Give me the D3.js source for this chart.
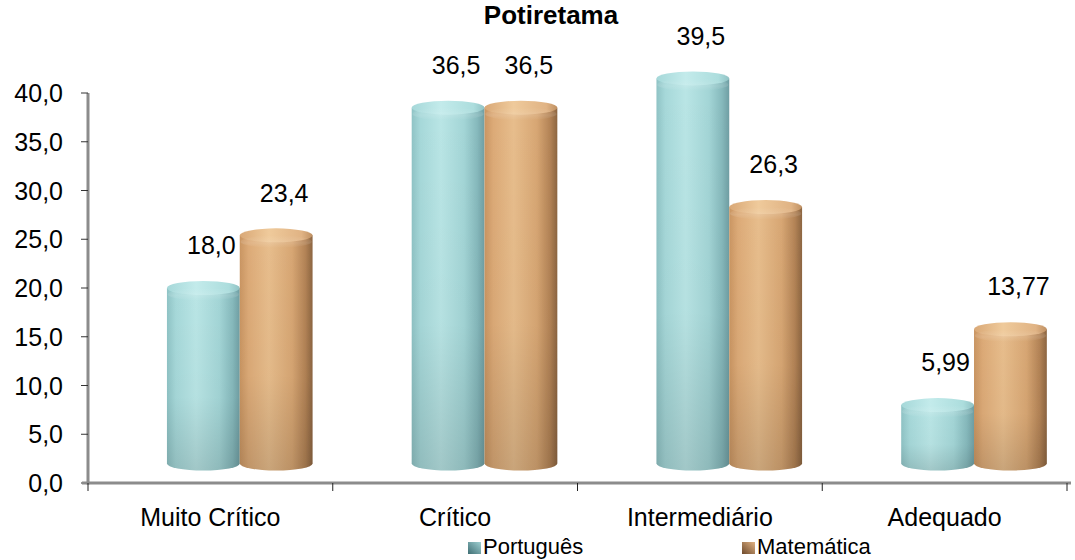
<!DOCTYPE html>
<html>
<head>
<meta charset="utf-8">
<script src="https://cdn.jsdelivr.net/npm/d3@7"></script>
<style>
  html, body { margin: 0; padding: 0; background: #fff; }
  svg { display: block; font-family: "Liberation Sans", Arial, sans-serif; }
</style>
</head>
<body>
<svg id="chart" width="1075" height="560"></svg>
<script>
// Chart data
const title = "Potiretama";
const categories = ["Muito Crítico", "Crítico", "Intermediário", "Adequado"];
const seriesNames = ["Português", "Matemática"];
const portugues = [18.0, 36.5, 39.5, 5.99];
const matematica = [23.4, 36.5, 26.3, 13.77];
const valueLabels = [["18,0", "36,5", "39,5", "5,99"], ["23,4", "36,5", "26,3", "13,77"]];
const yTicks = [0, 5, 10, 15, 20, 25, 30, 35, 40];
const seriesValues = [portugues, matematica];

const svg = d3.select("#chart");
const W = 1075, H = 560;
const plot = { left: 88, right: 1067, top: 93, bottom: 483 };

const y = d3.scaleLinear().domain([0, 40]).range([plot.bottom, plot.top]);
const x0 = d3.scaleBand().domain(categories).range([plot.left, plot.right]);
const x1 = d3.scaleBand().domain(seriesNames)
  .range([x0.bandwidth() * 0.2, x0.bandwidth() * 0.795]);

// 3D projection of the bar floor: back plane shifted right and up
const depthX = 30, depthY = -19.5, ry = 7;

// Gradients
const defs = svg.append("defs");
const bodyStops = {
  "Português": [[0, "#8fc3c5"], [0.12, "#a6d8d9"], [0.4, "#b9e5e5"], [0.72, "#a3d5d6"], [0.9, "#86b9bc"], [1, "#6f9ea3"]],
  "Matemática": [[0, "#c99562"], [0.12, "#dcaa77"], [0.4, "#e7bd8c"], [0.72, "#d7a673"], [0.9, "#b38356"], [1, "#8c6541"]]
};
const capStops = {
  "Português": [[0, "#a6d8d9"], [0.4, "#c3ebeb"], [0.85, "#acdddd"], [1, "#90c2c4"]],
  "Matemática": [[0, "#d9a876"], [0.4, "#efca9b"], [0.85, "#e0b384"], [1, "#bf9062"]]
};
seriesNames.forEach((s, i) => {
  const g = defs.append("linearGradient").attr("id", "body" + i)
    .attr("x1", "0").attr("x2", "1").attr("y1", "0").attr("y2", "0");
  bodyStops[s].forEach(([o, c]) => g.append("stop").attr("offset", o).attr("stop-color", c));
  const c = defs.append("linearGradient").attr("id", "cap" + i)
    .attr("x1", "0").attr("x2", "1").attr("y1", "0").attr("y2", "0");
  capStops[s].forEach(([o, col]) => c.append("stop").attr("offset", o).attr("stop-color", col));
});
const shade = defs.append("linearGradient").attr("id", "shade")
  .attr("x1", "0").attr("x2", "0").attr("y1", "0").attr("y2", "1");
shade.append("stop").attr("offset", 0).attr("stop-color", "#000").attr("stop-opacity", 0);
shade.append("stop").attr("offset", 0.6).attr("stop-color", "#000").attr("stop-opacity", 0.02);
shade.append("stop").attr("offset", 1).attr("stop-color", "#000").attr("stop-opacity", 0.13);

const capHi = defs.append("linearGradient").attr("id", "capHi")
  .attr("x1", "0").attr("x2", "0").attr("y1", "0").attr("y2", "1");
capHi.append("stop").attr("offset", 0).attr("stop-color", "#fff").attr("stop-opacity", 0);
capHi.append("stop").attr("offset", 0.6).attr("stop-color", "#fff").attr("stop-opacity", 0.12);
capHi.append("stop").attr("offset", 1).attr("stop-color", "#fff").attr("stop-opacity", 0);

const soft = defs.append("filter").attr("id", "soft");
soft.append("feGaussianBlur").attr("stdDeviation", 0.7);

const legendGrad = [["#3f6e74", "#9fd0d2"], ["#6e4a2c", "#e0b283"]];
legendGrad.forEach((cols, i) => {
  const g = defs.append("linearGradient").attr("id", "leg" + i)
    .attr("x1", "0").attr("x2", "1").attr("y1", "1").attr("y2", "0");
  g.append("stop").attr("offset", 0).attr("stop-color", cols[0]);
  g.append("stop").attr("offset", 1).attr("stop-color", cols[1]);
});

// Title
svg.append("text").attr("x", 551).attr("y", 24)
  .attr("text-anchor", "middle").attr("font-size", 26).attr("font-weight", "bold")
  .attr("fill", "#000").text(title);

// Cylinders
const bars = [];
categories.forEach((cat, ci) => {
  seriesNames.forEach((s, si) => {
    bars.push({ cat, ci, s, si, v: seriesValues[si][ci], label: valueLabels[si][ci] });
  });
});

const barG = svg.append("g").attr("filter", "url(#soft)");
bars.forEach(d => {
  const w = x1.bandwidth();
  const rx = w / 2;
  const left = x0(d.cat) + x1(d.s) + depthX;
  const right = left + w;
  const topY = y(d.v) + depthY;
  const botY = y(0) + depthY;
  const body = `M${left},${topY} L${left},${botY} A${rx},${ry} 0 0 0 ${right},${botY} L${right},${topY} Z`;
  const g = barG.append("g");
  g.append("path").attr("d", body).attr("fill", `url(#body${d.si})`);
  g.append("path").attr("d", body).attr("fill", "url(#shade)");
  g.append("ellipse").attr("cx", left + rx).attr("cy", topY).attr("rx", rx).attr("ry", ry)
    .attr("fill", `url(#cap${d.si})`);
  g.append("ellipse").attr("cx", left + rx).attr("cy", topY + ry * 0.9).attr("rx", rx * 0.98).attr("ry", ry * 0.9)
    .attr("fill", "url(#capHi)");
});

// Value labels
svg.append("g").selectAll("text").data(bars).join("text")
  .attr("x", d => x0(d.cat) + x1(d.s) + depthX + x1.bandwidth() / 2 + 8)
  .attr("y", d => y(d.v) - 62)
  .attr("dy", "0.35em")
  .attr("text-anchor", "middle").attr("font-size", 25).attr("fill", "#000")
  .text(d => d.label);

// Y axis
const yAxis = svg.append("g");
yAxis.append("line").attr("x1", plot.left).attr("x2", plot.left)
  .attr("y1", plot.top).attr("y2", plot.bottom + 1.5)
  .attr("stroke", "#8c8c8c").attr("stroke-width", 3);
yAxis.selectAll(".tk").data(yTicks).join("line")
  .attr("x1", plot.left - 7).attr("x2", plot.left)
  .attr("y1", d => y(d)).attr("y2", d => y(d))
  .attr("stroke", "#333").attr("stroke-width", 1);
yAxis.selectAll("text").data(yTicks).join("text")
  .attr("x", 63).attr("y", d => y(d)).attr("dy", "0.36em")
  .attr("text-anchor", "end").attr("font-size", 25).attr("fill", "#000")
  .text(d => d.toFixed(1).replace(".", ","));

// X axis
const xAxis = svg.append("g");
xAxis.append("line").attr("x1", plot.left - 6).attr("x2", 1071)
  .attr("y1", plot.bottom).attr("y2", plot.bottom)
  .attr("stroke", "#8c8c8c").attr("stroke-width", 3);
const boundaries = categories.map(c => x0(c)).concat([plot.right]);
xAxis.selectAll(".tk").data(boundaries).join("line")
  .attr("x1", d => d).attr("x2", d => d)
  .attr("y1", plot.bottom).attr("y2", plot.bottom + 8)
  .attr("stroke", "#222").attr("stroke-width", 1);
xAxis.selectAll("text").data(categories).join("text")
  .attr("x", d => x0(d) + x0.bandwidth() / 2).attr("y", 517).attr("dy", "0.35em")
  .attr("text-anchor", "middle").attr("font-size", 25).attr("fill", "#000")
  .text(d => d);

// Legend
const legendX = [468, 742];
const legend = svg.append("g");
seriesNames.forEach((s, i) => {
  legend.append("rect").attr("x", legendX[i]).attr("y", 542).attr("width", 13).attr("height", 12)
    .attr("fill", `url(#leg${i})`);
  legend.append("text").attr("x", legendX[i] + 15).attr("y", 554)
    .attr("font-size", 22).attr("fill", "#000").text(s);
});
</script>
</body>
</html>
